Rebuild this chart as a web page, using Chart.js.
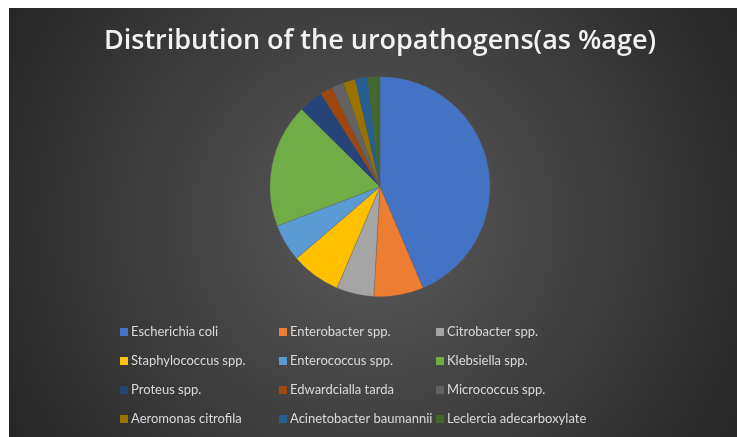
<!DOCTYPE html>
<html>
<head>
<meta charset="utf-8">
<script src="https://cdn.jsdelivr.net/npm/chart.js@4.4.1/dist/chart.umd.min.js"></script>
<style>
  html, body { margin: 0; padding: 0; background: #ffffff; }
  #wrap { position: absolute; left: 9px; top: 8px; width: 728px; height: 429px; }
</style>
</head>
<body>
<div id="wrap"><canvas id="pieChart"></canvas></div>
<script>
// uropathogen shares, % of isolates
const organisms = ['Escherichia coli', 'Enterobacter spp.', 'Citrobacter spp.',
  'Staphylococcus spp.', 'Enterococcus spp.', 'Klebsiella spp.',
  'Proteus spp.', 'Edwardcialla tarda', 'Micrococcus spp.',
  'Aeromonas citrofila', 'Acinetobacter baumannii', 'Leclercia adecarboxylate'];
const percentages = [43.6, 7.3, 5.5, 7.3, 5.5, 18.2, 3.6, 1.8, 1.8, 1.8, 1.8, 1.8];
const sliceColors = ['#4472C4', '#ED7D31', '#A5A5A5', '#FFC000', '#5B9BD5', '#70AD47',
  '#264478', '#9E480E', '#636363', '#997300', '#255E91', '#43682B'];

const darkBackground = {
  id: 'darkBackground',
  beforeDraw(chart) {
    const ctx = chart.ctx;
    const w = chart.width, h = chart.height;
    const g = ctx.createRadialGradient(w / 2, h / 2, 0, w / 2, h / 2, w * 0.58);
    g.addColorStop(0, '#5a5a5a');
    g.addColorStop(1, '#262626');
    ctx.save();
    ctx.fillStyle = g;
    ctx.fillRect(0, 0, w, h);
    ctx.restore();
  }
};

// legend in three fixed columns, like the office chart
const gridLegend = {
  id: 'gridLegend',
  afterDraw(chart) {
    const ctx = chart.ctx;
    const cols = [111, 270, 427];
    const top = 324, gap = 29, box = 8;
    ctx.save();
    ctx.font = '13px Lato, "Open Sans", sans-serif';
    ctx.textBaseline = 'middle';
    organisms.forEach((name, i) => {
      const x = cols[i % 3];
      const y = top + Math.floor(i / 3) * gap;
      ctx.fillStyle = sliceColors[i];
      ctx.fillRect(x, y - box / 2, box, box);
      ctx.fillStyle = '#d9d9d9';
      ctx.fillText(name, x + 11, y);
    });
    ctx.restore();
  }
};

new Chart(document.getElementById('pieChart'), {
  type: 'pie',
  data: {
    labels: organisms,
    datasets: [{
      data: percentages,
      backgroundColor: sliceColors,
      borderColor: 'rgba(90,90,90,0.6)',
      borderWidth: 0.5
    }]
  },
  options: {
    responsive: true,
    maintainAspectRatio: false,
    animation: false,
    layout: { padding: { top: 0, bottom: 140, left: 14, right: 0 } },
    plugins: {
      legend: { display: false },
      tooltip: { enabled: false },
      title: {
        display: true,
        text: 'Distribution of the uropathogens(as %age)',
        color: '#f2f2f2',
        font: { family: '"Open Sans", sans-serif', size: 27, weight: '600', lineHeight: 1.2 },
        padding: { top: 17, bottom: 19 }
      }
    }
  },
  plugins: [darkBackground, gridLegend]
});
</script>
</body>
</html>
